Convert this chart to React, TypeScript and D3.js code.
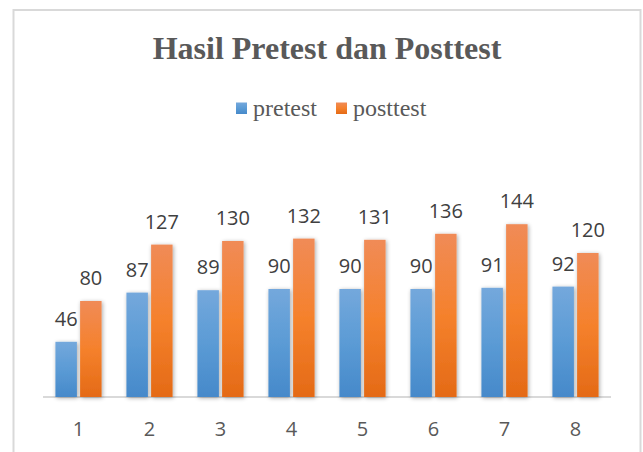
import React from "react";
import * as d3 from "d3";

const categories = ["1", "2", "3", "4", "5", "6", "7", "8"];
const pretest = [46, 87, 89, 90, 90, 90, 91, 92];
const posttest = [80, 127, 130, 132, 131, 136, 144, 120];
const seriesNames = ["pretest", "posttest"];
const titleText = "Hasil Pretest dan Posttest";

export default function App() {
  const W = 643, H = 452;
  const x0 = d3.scaleBand().domain(categories).range([43, 611]).paddingInner(0.35).paddingOuter(0.175);
  const x1 = d3.scaleBand().domain(seriesNames).range([0, x0.bandwidth()]).paddingInner(0.13);
  const y = d3.scaleLinear().domain([0, 160]).range([397, 205]);
  const data = [pretest, posttest];
  const fills = ["url(#gBlue)", "url(#gOrange)"];
  const grey = "#595959";
  const legendX = [236, 336];
  return (
    <svg width={W} height={H} style={{ position: "absolute", left: 0, top: 0 }}>
      <defs>
        <linearGradient id="gBlue" x1="0" y1="0" x2="0" y2="1">
          <stop offset="0" stopColor="#74a8dc" />
          <stop offset="0.5" stopColor="#5b9bd5" />
          <stop offset="1" stopColor="#4689ca" />
        </linearGradient>
        <linearGradient id="gOrange" x1="0" y1="0" x2="0" y2="1">
          <stop offset="0" stopColor="#f08b57" />
          <stop offset="0.5" stopColor="#f5812c" />
          <stop offset="1" stopColor="#e46a16" />
        </linearGradient>
        <filter id="shadow" x="-50%" y="-20%" width="200%" height="140%">
          <feGaussianBlur in="SourceAlpha" stdDeviation="2" />
          <feOffset dx="1" dy="1" result="b" />
          <feComponentTransfer><feFuncA type="linear" slope="0.35" /></feComponentTransfer>
          <feMerge><feMergeNode /><feMergeNode in="SourceGraphic" /></feMerge>
        </filter>
      </defs>
      <rect x={0} y={0} width={W} height={H} fill="#fff" />
      <rect x={13.5} y={10} width={627} height={460} fill="#fff" stroke="#d9d9d9" strokeWidth={2} />
      <text x={327} y={59} textAnchor="middle" fontFamily="'Liberation Serif', 'Times New Roman', serif" fontWeight="bold" fontSize={32} fill={grey}>{titleText}</text>
      {seriesNames.map((s, i) => (
        <g key={s}>
          <rect x={legendX[i]} y={102.5} width={11} height={11.5} fill={fills[i]} />
          <text x={legendX[i] + 17} y={116} fontFamily="'Liberation Serif', 'Times New Roman', serif" fontSize={24} fill={grey}>{s}</text>
        </g>
      ))}
      <line x1={43} x2={611} y1={397} y2={397} stroke="#d9d9d9" strokeWidth={2} />
      {categories.map((c, ci) => (
        <g key={c}>
          {seriesNames.map((s, si) => {
            const v = data[si][ci];
            const bx = (x0(c) as number) + (x1(s) as number);
            return (
              <g key={s}>
                <rect x={bx} y={y(v)} width={x1.bandwidth()} height={397 - y(v)} fill={fills[si]} filter="url(#shadow)" />
                <text x={bx + x1.bandwidth() / 2} y={y(v) - 16} textAnchor="middle" fontFamily="'Open Sans', sans-serif" fontSize={20} fill="#404040">{v}</text>
              </g>
            );
          })}
          <text x={(x0(c) as number) + x0.bandwidth() / 2} y={436} textAnchor="middle" fontFamily="'Open Sans', sans-serif" fontSize={20} fill={grey}>{c}</text>
        </g>
      ))}
    </svg>
  );
}
